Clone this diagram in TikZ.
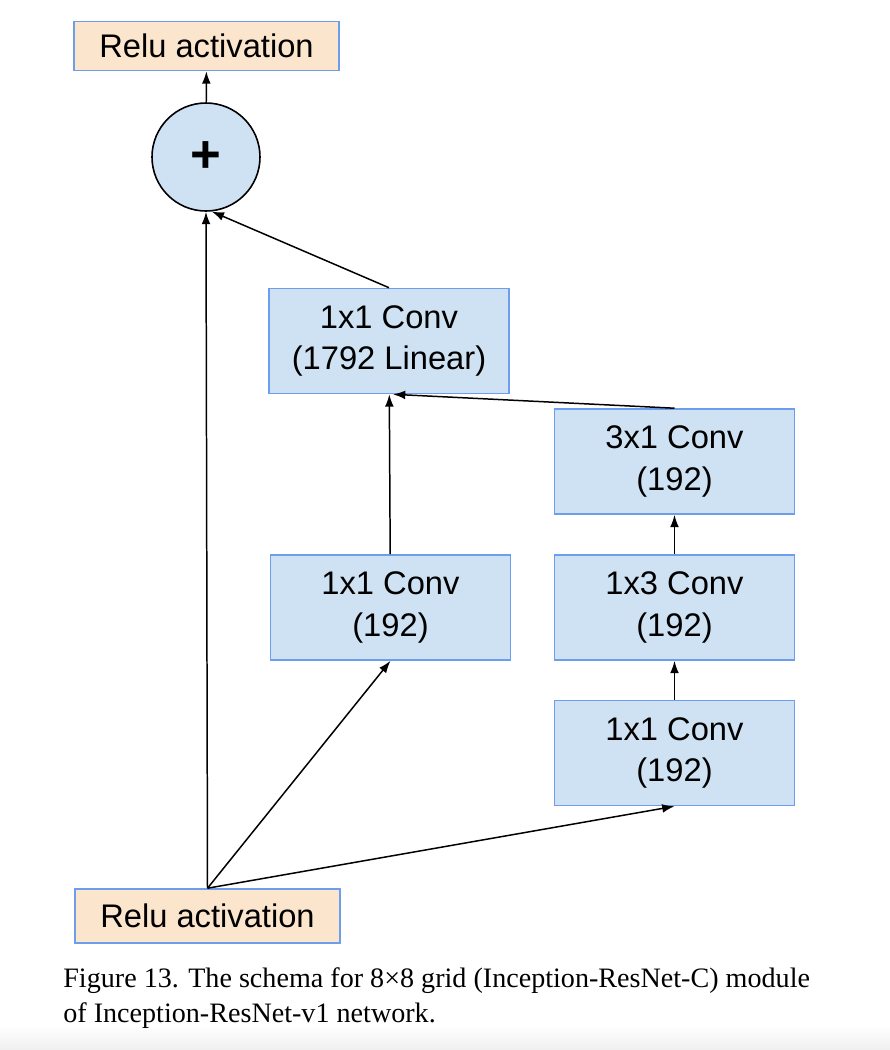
\documentclass[tikz,border=0pt]{standalone}
\usepackage{fontspec}
\setmainfont{Liberation Serif}
\setsansfont{Liberation Sans}
\usetikzlibrary{arrows.meta, positioning}
\definecolor{convfill}{RGB}{207,226,243}
\definecolor{reluf}{RGB}{252,229,205}
\definecolor{lineblue}{RGB}{109,158,235}

\begin{document}
\begin{tikzpicture}[
    auto,
    block/.style={rectangle, draw=lineblue, line width=0.9pt, fill=convfill, minimum width=4.8cm, minimum height=2.1cm, align=center, font=\sffamily\fontsize{18.6}{23.8}\selectfont},
    relu/.style={block, fill=reluf, minimum width=5.3cm, minimum height=0.98cm},
    addop/.style={circle, draw=black, line width=0.9pt, fill=convfill, minimum size=2.16cm, inner sep=0pt, font=\sffamily\bfseries\fontsize{30}{30}\selectfont},
    every edge/.style={draw, line width=0.85pt, -{Latex[length=7pt, width=5pt]}}
]
\useasboundingbox (0,0) rectangle (17.8,-21);
\shade[top color=white, bottom color=black!6] (0,-20.5) rectangle (17.8,-21);
% Blocks
\node[relu] (reluout) at (4.13, -0.92) {Relu activation};
\node[addop] (add) at (4.12, -3.14) {+};
\node[block] (lin) at (7.78, -6.82) {1x1 Conv\\(1792 Linear)};
\node[block] (c31) at (13.49, -9.23) {3x1 Conv\\(192)};
\node[block] (c11a) at (7.81, -12.15) {1x1 Conv\\(192)};
\node[block] (c13) at (13.49, -12.15) {1x3 Conv\\(192)};
\node[block] (c11b) at (13.49, -15.06) {1x1 Conv\\(192)};
\node[relu, minimum height=1.08cm] (reluin) at (4.15, -18.32) {Relu activation};
% Caption
\node[anchor=base west, align=left, inner sep=0pt, font=\fontsize{16}{19.4}\selectfont] (cap) at (1.26, -20.44)
    {Figure 13. The schema for 8×8 grid (Inception-ResNet-C) module\\of Inception-ResNet-v1 network.};
% Edges
\path (add) edge (reluout);
\path (reluin.north) edge (add.south);
\path (lin.north) edge (add.-84);
\path (c11a) edge (lin);
\path (c31.north) edge ([xshift=0.08cm]lin.south);
\path (c13) edge (c31);
\path (c11b) edge (c13);
\path (reluin.north) edge (c11a.south);
\path (reluin.north) edge (c11b.south);
\end{tikzpicture}
\end{document}
